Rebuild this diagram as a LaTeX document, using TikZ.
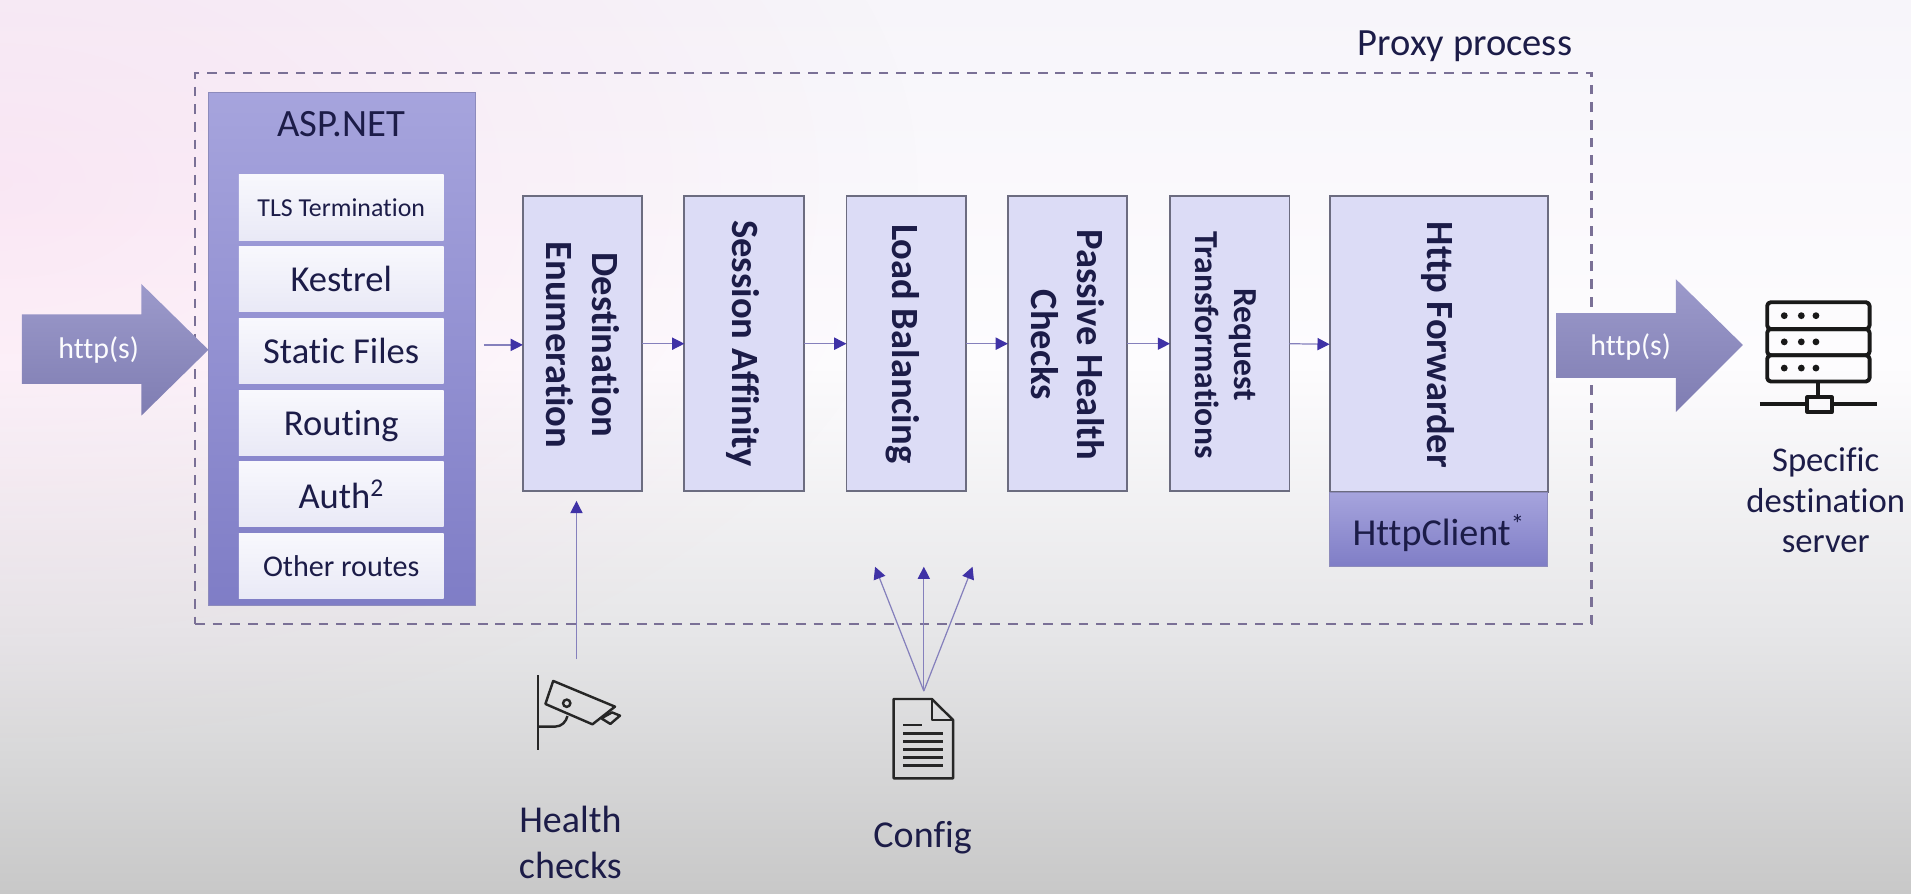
\documentclass[tikz,border=0pt]{standalone}
\usepackage{fontspec}
\setmainfont{Carlito}[Ligatures=NoCommon]
\usetikzlibrary{arrows.meta,fadings}
\newcommand{\ux}{0.914pt}
\definecolor{ink}{HTML}{1C1C48}
\definecolor{stageedge}{HTML}{6C6C80}
\definecolor{stagefill}{HTML}{DCDCF6}
\definecolor{headblue}{HTML}{3F32A6}
\definecolor{shaftblue}{HTML}{8580BC}
\definecolor{dashgrey}{HTML}{7A7096}
\definecolor{bgtop}{HTML}{F7F5FA}
\definecolor{bgmid}{HTML}{FDFCFE}
\definecolor{bglow}{HTML}{E6E6E8}
\definecolor{bgend}{HTML}{C8C8C8}
\definecolor{asptop}{HTML}{A6A4DD}
\definecolor{aspend}{HTML}{7F7DC6}
\definecolor{arrtop}{HTML}{9C9ACB}
\definecolor{arrend}{HTML}{7F7DB2}
\definecolor{layertop}{HTML}{F8F8FD}
\definecolor{layerend}{HTML}{E9E9F6}
\tikzfading[name=pinkfade, inner color=transparent!0, outer color=transparent!100]
\tikzset{
  base/.style={inner sep=0pt, outer sep=0pt, text=ink, align=center},
  stagebox/.style={base, draw=stageedge, line width=1.5*\ux, fill=stagefill},
  layerbox/.style={base, top color=layertop, bottom color=layerend, minimum width=168*\ux},
  flow/.style={draw=shaftblue, line width=1*\ux, -{Triangle[length=10*\ux,width=10*\ux,color=headblue]}},
  vtext/.style={base, rotate=-90, font=\bfseries\fontsize{28.9pt}{34.7pt}\selectfont},
  bigtext/.style={font=\fontsize{27.4pt}{31pt}\selectfont},
  captext/.style={base, font=\fontsize{28.5pt}{34.7pt}\selectfont},
  icon/.style={draw=black!85, line width=2*\ux, line join=round},
  thickicon/.style={draw=black!90, line width=3.2*\ux, line join=round},
  bigshape/.style={top color=arrtop, bottom color=arrend},
  purplebox/.style={base, top color=asptop, bottom color=aspend, draw=asptop!85!black, line width=1*\ux},
  arrowtext/.style={base, text=white!92!stagefill, font=\fontsize{22.4pt}{25pt}\selectfont}
}
\begin{document}
\begin{tikzpicture}[x=\ux, y=-\ux]
\useasboundingbox (0,0) rectangle (1568,733.5);
\clip (0,0) rectangle (1568,733.5);
% background
\shade[top color=bgtop, bottom color=bgmid] (0,0) rectangle (1568,300);
\shade[top color=bgmid, bottom color=bglow] (0,299) rectangle (1568,520);
\shade[top color=bglow, bottom color=bgend] (0,519) rectangle (1568,733.5);
\fill[magenta!50!white, opacity=.15, path fading=pinkfade, fit fading=true] (0,150) ellipse [x radius=760, y radius=460];
% proxy frame
\node[base, draw=dashgrey, dash pattern=on 8*\ux off 6.5*\ux, line width=2.2*\ux, minimum width=1146*\ux, minimum height=452*\ux] (frame) at (733,286) {};
\node[base, font=\fontsize{28.9pt}{31pt}\selectfont] (proxy) at (1202,38) {Proxy process};
% asp.net
\node[purplebox, minimum width=219*\ux, minimum height=421*\ux] (asp) at (280.5,286.5) {};
\node[base, font=\fontsize{29pt}{31pt}\selectfont] (asplabel) at (280,102) {ASP.NET};
\node[layerbox, minimum height=54*\ux, font=\fontsize{19.4pt}{23pt}\selectfont] (tls) at (280,170) {TLS Termination};
\node[layerbox, minimum height=53*\ux, bigtext] (kestrel) at (280,229) {Kestrel};
\node[layerbox, minimum height=53*\ux, bigtext] (static) at (280,288) {Static Files};
\node[layerbox, minimum height=53*\ux, bigtext, text depth=0pt] (routing) at (280,347) {Routing};
\node[layerbox, minimum height=53*\ux, bigtext] (auth) at (280,405.5) {Auth\textsuperscript{2}};
\node[layerbox, minimum height=53*\ux, font=\fontsize{22.6pt}{27pt}\selectfont] (other) at (280,464.5) {Other routes};
% stages
\node[stagebox, minimum width=98*\ux, minimum height=242*\ux] (s1) at (478,282) {};
\node[stagebox, minimum width=98*\ux, minimum height=242*\ux] (s2) at (610.5,282) {};
\node[stagebox, minimum width=98*\ux, minimum height=242*\ux] (s3) at (743.5,282) {};
\node[stagebox, minimum width=98*\ux, minimum height=242*\ux] (s4) at (876,282) {};
\node[stagebox, minimum width=98*\ux, minimum height=242*\ux] (s5) at (1009,282) {};
\node[stagebox, minimum width=179*\ux, minimum height=243*\ux] (s6) at (1180.5,282.5) {};
\node[purplebox, minimum width=179*\ux, minimum height=61*\ux, font=\fontsize{28.6pt}{31pt}\selectfont, text depth=0pt] (client) at (1180.5,434.5) {HttpClient\textsuperscript{*}};
\node[vtext] (t1) at (478,283) {Destination\\Enumeration};
\node[vtext] (t2) at (610,282) {Session Affinity};
\node[vtext] (t3) at (741,282) {Load Balancing};
\node[vtext] (t4) at (876,283) {Passive Health\\Checks};
\node[vtext, font=\bfseries\fontsize{25.2pt}{29.5pt}\selectfont] (t5) at (1006,283) {Request\\Transformations};
\node[vtext] (t6) at (1180,283) {Http Forwarder};
% connectors
\coordinate (inflow) at (397,283);
\path (s1.west) ++(0,1) coordinate (s1in);
\draw[flow] (inflow) -- (s1in);
\draw[flow] (s1.east) -- (s2.west);
\draw[flow] (s2.east) -- (s3.west);
\draw[flow] (s3.east) -- (s4.west);
\draw[flow] (s4.east) -- (s5.west);
\draw[flow] (s5.east) -- (s6.west);
% big arrows
\shade[bigshape] (18,258) -- (116,258) -- (116,233) -- (171,287) -- (116,341) -- (116,315) -- (18,315) -- cycle;
\node[arrowtext] (inhttp) at (81,287) {http(s)};
\shade[bigshape] (1277,257) -- (1375,257) -- (1375,229) -- (1430,283) -- (1375,338) -- (1375,310) -- (1277,310) -- cycle;
\node[arrowtext] (outhttp) at (1338,285) {http(s)};
% server icon
\draw[thickicon, rounded corners=3*\ux] (1450,248) rectangle (1534,270);
\draw[thickicon, rounded corners=3*\ux] (1450,270) rectangle (1534,291.5);
\draw[thickicon, rounded corners=3*\ux] (1450,291.5) rectangle (1534,313);
\foreach \yy in {259,280.5,302} \foreach \xx in {1464,1478,1490} \fill[black!90] (\xx,\yy) circle [radius=2.8];
\draw[thickicon] (1492,313) -- (1492,326);
\draw[thickicon] (1444,331.5) -- (1483,331.5) (1503,331.5) -- (1540,331.5);
\draw[thickicon] (1483,326) rectangle (1503,338);
\node[captext, font=\fontsize{26pt}{30.6pt}\selectfont] (server) at (1498,410.5) {Specific\\destination\\server};
% camera
\draw[icon] (441.6,554) -- (441.6,615);
\draw[icon] (453.9,558.7) -- (504.6,579.8) -- (486.1,594.3) -- (447.5,577.6) -- cycle;
\draw[icon] (493.4,589.4) -- (502.2,584.5) -- (508.7,587.2) -- (500.8,594) -- (493.4,589.4);
\draw[icon] (465,577) circle [radius=3];
\draw[icon] (441.6,596.2) -- (455.4,596.2) .. controls (461,596.2) and (464.5,592) .. (465.6,587.5);
\node[captext] (health) at (468,691.5) {Health\\checks};
\coordinate (healthstart) at (473,541);
\coordinate (healthend) at (473,411);
\draw[flow] (healthstart) -- (healthend);
% document
\draw[icon] (733.2,573.5) -- (764.5,573.5) -- (782,590.7) -- (782,638.6) -- (733.2,638.6) -- cycle;
\draw[icon] (764.5,573.5) -- (764.5,590.7) -- (782,590.7);
\draw[icon] (741,594.9) -- (756.5,594.9);
\foreach \yy in {601.7,608.5,614.8,621.4,628} \draw[icon] (741,\yy) -- (774,\yy);
\node[captext] (config) at (757,687) {Config};
\coordinate (cfgstart) at (758,567);
\coordinate (cfgleft) at (718,465);
\coordinate (cfgmid) at (758,465);
\coordinate (cfgright) at (798,465);
\draw[flow] (cfgstart) -- (cfgleft);
\draw[flow] (cfgstart) -- (cfgmid);
\draw[flow] (cfgstart) -- (cfgright);
\end{tikzpicture}
\end{document}
